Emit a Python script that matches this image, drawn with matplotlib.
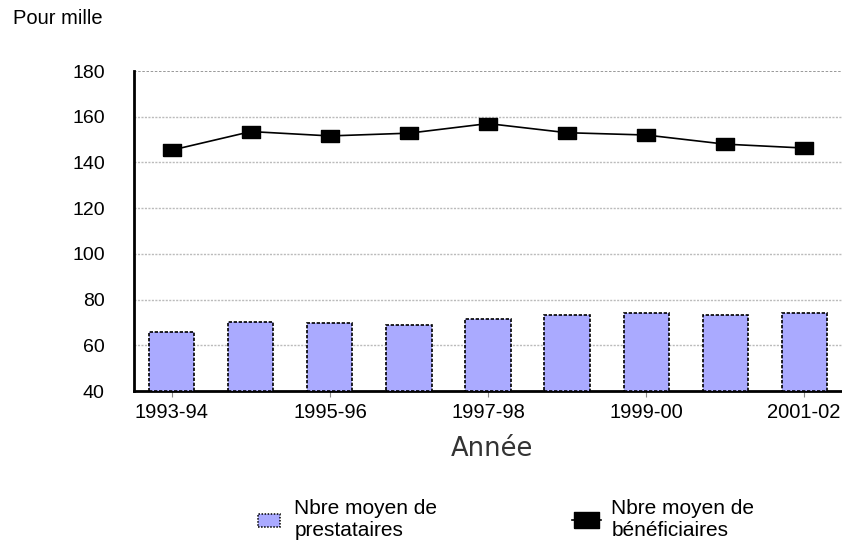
import matplotlib
matplotlib.use("Agg")
import matplotlib.pyplot as plt
from matplotlib.patches import Patch
from matplotlib.lines import Line2D

plt.rcParams['font.family'] = ['Liberation Sans', 'DejaVu Sans']

years = ["1993-94", "1994-95", "1995-96", "1996-97", "1997-98",
         "1998-99", "1999-00", "2000-01", "2001-02"]
prestataires = [66, 70.4, 69.7, 68.7, 71.5, 73.1, 74, 73.1, 74]
beneficiaires = [145.4, 153.5, 151.6, 152.8, 157, 153, 152, 148, 146.3]
yticks = [40, 60, 80, 100, 120, 140, 160, 180]

fig = plt.figure(figsize=(8.42, 5.46), dpi=100)
ax = fig.add_axes([134/842, 1 - 391/546, (842 - 134)/842, (391 - 71)/546])

x = list(range(len(years)))
ax.bar(x, [v - 40 for v in prestataires], bottom=40, width=0.57, color='#AAAAFF',
       edgecolor='black', linewidth=1.2, linestyle=(0, (2, 1)), zorder=3)

rect = [(-1, -0.65), (1, -0.65), (1, 0.65), (-1, 0.65), (-1, -0.65)]
ax.plot(x, beneficiaires, color='black', linewidth=1.2, marker=rect, markersize=13,
        markerfacecolor='black', markeredgecolor='black', zorder=4)

ax.set_ylim(40, 180)
ax.set_xlim(-0.48, 8.48)
ax.set_yticks(yticks)
ax.set_yticklabels([str(v) for v in yticks], fontsize=14)
ax.tick_params(axis='y', length=0, pad=21)
ax.set_xticks(x[::2])
ax.set_xticklabels(years[::2], fontsize=14.5)
ax.tick_params(axis='x', length=4, color='#888888', pad=5)

for v in yticks[1:-1]:
    ax.axhline(v, color='#BBBBBB', linewidth=1, linestyle=(0, (1.5, 1)), zorder=1)
ax.axhline(180, color='#888888', linewidth=1.2, linestyle=(0, (1.5, 1)), zorder=1)

for s in ['top', 'right']:
    ax.spines[s].set_visible(False)
ax.spines['left'].set_linewidth(2)
ax.spines['bottom'].set_linewidth(2)

fig.text(492/842, 1 - 449/546, "Année", fontsize=18.5, color='#333333',
         ha='center', va='center', family=['DejaVu Sans'])

fig.text(13/842, 1 - 18/546, "Pour mille", fontsize=14.5, va='center', ha='left')

h1 = Patch(facecolor='#AAAAFF', edgecolor='black', linewidth=1.1, linestyle=(0, (1, 1)))
h2 = Line2D([0], [0], color='black', linewidth=1.2, marker=rect, markersize=18,
            markerfacecolor='black')
fig.legend([h1], ["Nbre moyen de\nprestataires"], loc='center left',
           bbox_to_anchor=(239/842, 1 - 520/546), frameon=False, fontsize=15,
           handlelength=1.05, handleheight=0.6, handletextpad=0.7, labelspacing=0)
fig.legend([h2], ["Nbre moyen de\nbénéficiaires"], loc='center left',
           bbox_to_anchor=(553/842, 1 - 520/546), frameon=False, fontsize=15,
           handlelength=1.4, handletextpad=0.5, labelspacing=0)

fig.savefig("out.png", dpi=100)
